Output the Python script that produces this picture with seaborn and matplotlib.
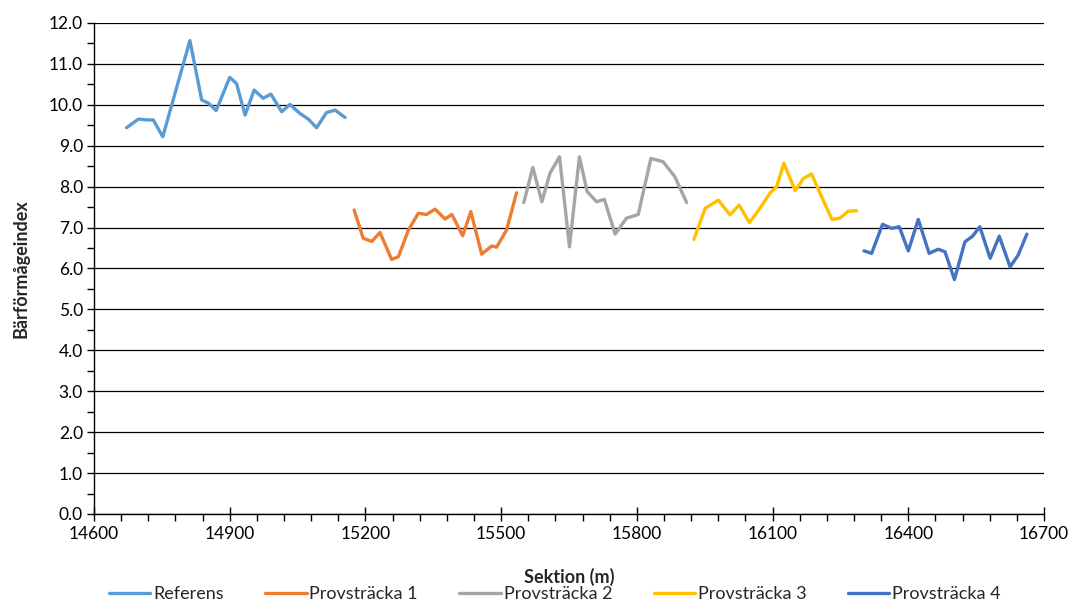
import matplotlib.pyplot as plt
import matplotlib.ticker as mticker
import pandas as pd
import seaborn as sns

sns.set_style("white")
plt.rcParams['font.family'] = ['Lato', 'DejaVu Sans']

# values (section in m, index)
ref_x = [14672, 14698, 14720, 14731, 14752, 14812, 14838, 14853, 14870, 14900, 14915, 14934,
         14954, 14974, 14991, 15015, 15033, 15055, 15074, 15092, 15114, 15133, 15155]
ref_y = [9.44, 9.65, 9.63, 9.63, 9.22, 11.57, 10.12, 10.04, 9.86, 10.67, 10.52, 9.75,
         10.36, 10.16, 10.26, 9.83, 10.01, 9.79, 9.65, 9.44, 9.81, 9.87, 9.69]

p1_x = [15175, 15195, 15214, 15232, 15258, 15273, 15295, 15317, 15335, 15354, 15376, 15391,
        15415, 15433, 15457, 15479, 15490, 15512, 15534]
p1_y = [7.43, 6.74, 6.66, 6.88, 6.22, 6.29, 6.94, 7.35, 7.32, 7.45, 7.21, 7.32,
        6.80, 7.39, 6.35, 6.55, 6.52, 6.94, 7.85]

p2_x = [15550, 15570, 15590, 15608, 15629, 15651, 15673, 15690, 15711, 15728, 15752, 15777,
        15803, 15831, 15858, 15884, 15910]
p2_y = [7.61, 8.47, 7.63, 8.33, 8.73, 6.53, 8.73, 7.88, 7.63, 7.69, 6.84, 7.23,
        7.32, 8.69, 8.61, 8.24, 7.61]

p3_x = [15926, 15951, 15980, 16006, 16026, 16049, 16072, 16094, 16109, 16125, 16150, 16168,
        16186, 16205, 16231, 16249, 16267, 16286]
p3_y = [6.71, 7.47, 7.67, 7.31, 7.55, 7.12, 7.47, 7.84, 8.00, 8.57, 7.90, 8.20,
        8.31, 7.84, 7.20, 7.23, 7.40, 7.41]

p4_x = [16302, 16319, 16343, 16363, 16380, 16400, 16422, 16446, 16466, 16481, 16502, 16525,
        16542, 16558, 16581, 16601, 16625, 16643, 16662]
p4_y = [6.43, 6.37, 7.08, 6.98, 7.02, 6.43, 7.20, 6.37, 6.47, 6.41, 5.73, 6.65,
        6.79, 7.02, 6.25, 6.79, 6.04, 6.33, 6.84]

names = ["Referens", "Provsträcka 1", "Provsträcka 2", "Provsträcka 3", "Provsträcka 4"]
colors = ["#5B9BD5", "#ED7D31", "#A5A5A5", "#FFC000", "#4472C4"]
x_ticks = list(range(14600, 16701, 300))
x_minor = list(range(14600, 16701, 60))

frames = []
for name, xs, ys in zip(names, [ref_x, p1_x, p2_x, p3_x, p4_x], [ref_y, p1_y, p2_y, p3_y, p4_y]):
    frames.append(pd.DataFrame({"sektion": xs, "index": ys, "serie": name}))
data = pd.concat(frames, ignore_index=True)

fig = plt.figure(figsize=(10.73, 6.03), dpi=100)
ax = fig.add_axes([0.0876, 0.1476, 0.8854, 0.8143])

sns.lineplot(data=data, x="sektion", y="index", hue="serie", hue_order=names,
             palette=colors, sort=False, linewidth=2.4, ax=ax, legend=True)
for line in ax.lines:
    line.set_solid_joinstyle("round")
    line.set_solid_capstyle("round")

ax.set_xlim(14600, 16700)
ax.set_ylim(0, 12)
ax.set_xticks(x_ticks)
ax.set_xticks(x_minor, minor=True)
ax.yaxis.set_major_locator(mticker.MultipleLocator(1))
ax.yaxis.set_minor_locator(mticker.MultipleLocator(0.5))
ax.yaxis.set_major_formatter(mticker.FormatStrFormatter("%.1f"))

ax.grid(axis="y", which="major", color="black", linewidth=0.9)
ax.set_axisbelow(True)
for side in ["top", "right"]:
    ax.spines[side].set_visible(False)
for side in ["left", "bottom"]:
    ax.spines[side].set_color("black")
    ax.spines[side].set_linewidth(1.0)

ax.tick_params(axis="x", which="major", direction="inout", length=10, width=1, colors="black",
               labelsize=12.5, pad=4)
ax.tick_params(axis="x", which="minor", direction="out", length=5, width=1, colors="black")
ax.tick_params(axis="y", which="major", direction="out", length=5, width=1, colors="black",
               labelsize=12.5, pad=3)
ax.tick_params(axis="y", which="minor", direction="out", length=5, width=1, colors="black")
ax.tick_params(bottom=True, left=True, which="both")

ax.set_xlabel("Sektion (m)", fontsize=13, fontweight="bold", labelpad=18)
ax.set_ylabel("Bärförmågeindex", fontsize=13, fontweight="bold", labelpad=14)

handles, labels = ax.get_legend_handles_labels()
ax.legend_.remove()
fig.legend(handles, labels, loc="center", bbox_to_anchor=(0.517, 0.015), ncol=5,
           frameon=False, fontsize=13, handlelength=2.3, columnspacing=2.3,
           handletextpad=0.15, borderaxespad=0)

fig.savefig("out.png", dpi=100)
